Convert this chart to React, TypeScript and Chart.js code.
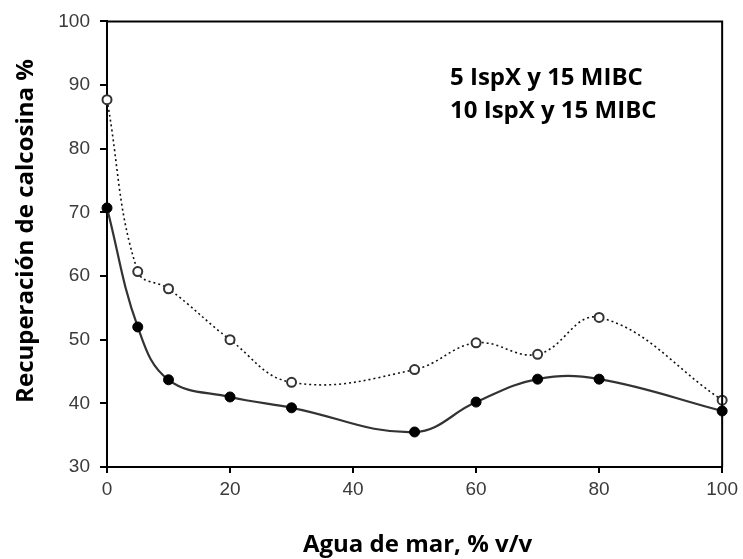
import React, { useEffect, useRef } from "react";
import { Chart, registerables } from "chart.js";

Chart.register(...registerables);

const xValues = [0, 5, 10, 20, 30, 50, 60, 70, 80, 100];
const series5 = [70.7, 52.0, 43.7, 41.0, 39.3, 35.5, 40.2, 43.8, 43.8, 38.8];
const series10 = [87.7, 60.7, 58.0, 50.0, 43.3, 45.3, 49.5, 47.7, 53.5, 40.5];
const legendLabels = ["5 IspX y 15 MIBC", "10 IspX y 15 MIBC"];
const xTitle = "Agua de mar, % v/v";
const yTitle = "Recuperación de calcosina %";

const TITLE_FAMILY = "'Open Sans', 'Noto Sans', sans-serif";
const TITLE_FONT = `bold 24px ${TITLE_FAMILY}`;
const TICK_FONT = { family: "'Liberation Sans', Arial, sans-serif", size: 19 };

const decorPlugin = {
  id: "decor",
  afterDraw(chart: any) {
    const { ctx, chartArea } = chart;
    ctx.save();
    ctx.strokeStyle = "#000";
    ctx.lineWidth = 2;
    ctx.beginPath();
    ctx.moveTo(chartArea.left, chartArea.top);
    ctx.lineTo(chartArea.right, chartArea.top);
    ctx.lineTo(chartArea.right, chartArea.bottom);
    ctx.stroke();
    ctx.fillStyle = "#000";
    ctx.font = TITLE_FONT;
    ctx.textBaseline = "alphabetic";
    // legend text
    ctx.textAlign = "left";
    ctx.fillText(legendLabels[0], 450, 85);
    ctx.fillText(legendLabels[1], 450, 118);
    // x title
    ctx.textAlign = "center";
    ctx.fillText(xTitle, (chartArea.left + chartArea.right) / 2 + 3, 552);
    // y title
    ctx.translate(33, 231);
    ctx.rotate(-Math.PI / 2);
    ctx.fillText(yTitle, 0, 0);
    ctx.restore();
  },
};

export default function App() {
  const ref = useRef<HTMLCanvasElement>(null);
  useEffect(() => {
    document.body.style.margin = "0";
    const chart = new Chart(ref.current!, {
      type: "line",
      data: {
        datasets: [
          {
            label: legendLabels[0],
            data: xValues.map((x, i) => ({ x, y: series5[i] })),
            borderColor: "#333",
            borderWidth: 2.2,
            pointRadius: 5,
            pointBackgroundColor: "#000",
            pointBorderColor: "#000",
            pointBorderWidth: 1,
            tension: 0.4,
            fill: false,
          },
          {
            label: legendLabels[1],
            data: xValues.map((x, i) => ({ x, y: series10[i] })),
            borderColor: "#111",
            borderWidth: 1.6,
            borderDash: [2, 3],
            pointRadius: 4.5,
            pointBackgroundColor: "#fff",
            pointBorderColor: "#333",
            pointBorderWidth: 2,
            tension: 0.4,
            fill: false,
          },
        ],
      },
      options: {
        animation: false,
        responsive: false,
        clip: false as any,
        layout: { padding: { left: 0, top: 16, right: 19, bottom: 0 } },
        plugins: { legend: { display: false }, tooltip: { enabled: false }, title: { display: false } },
        scales: {
          x: {
            type: "linear",
            min: 0,
            max: 100,
            ticks: { stepSize: 20, color: "#3a3a3a", padding: 5, font: TICK_FONT },
            grid: { drawOnChartArea: false, drawTicks: true, tickLength: 6, color: "#000", lineWidth: 2 },
            border: { display: true, color: "#000", width: 2 },
            title: { display: false, text: xTitle },
            afterFit(scale: any) { scale.height = 92; },
          },
          y: {
            type: "linear",
            min: 30,
            max: 100,
            ticks: { stepSize: 10, color: "#3a3a3a", padding: 10, font: TICK_FONT },
            grid: { drawOnChartArea: false, drawTicks: true, tickLength: 7, color: "#000", lineWidth: 2 },
            border: { display: true, color: "#000", width: 2 },
            title: { display: false, text: yTitle },
            afterFit(scale: any) { scale.width = 107; },
          },
        },
      },
      plugins: [decorPlugin],
    });
    return () => chart.destroy();
  }, []);
  return (
    <div style={{ width: 743, height: 559, background: "#fff" }}>
      <canvas ref={ref} width={743} height={559} style={{ display: "block" }} />
    </div>
  );
}
